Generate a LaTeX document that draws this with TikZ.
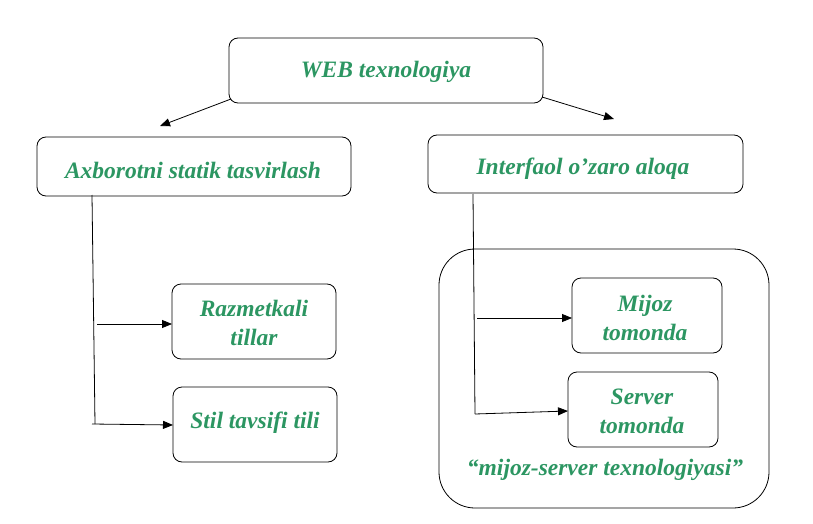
\documentclass[tikz,border=0pt]{standalone}
\usepackage{fontspec}
\setmainfont{Liberation Serif}
\usetikzlibrary{arrows.meta}
\definecolor{txtgreen}{RGB}{44,150,98}
\begin{document}
\begin{tikzpicture}[x=1pt,y=-1pt,
  box/.style={draw=black,line width=0.8pt,rounded corners=9pt,inner sep=0pt},
  lbl/.style={text=txtgreen,font=\fontsize{23.5}{29}\selectfont\bfseries\itshape,align=center},
  conn/.style={draw=black,line width=0.8pt},
  arr/.style={conn,-{Triangle[length=10pt,width=8pt]}}]
\useasboundingbox (0,0) rectangle (813,524);
% boxes
\draw[box] (229,38) rectangle (543,103);
\node[lbl] (web) at (386,72) {WEB texnologiya};
\draw[box] (37,137) rectangle (351,196);
\node[lbl] (ax) at (193,170) {Axborotni statik tasvirlash};
\draw[box] (428,135) rectangle (743,193);
\node[lbl] (int) at (583,169) {Interfaol o’zaro aloqa};
\draw[box,rounded corners=36pt] (439,249) rectangle (769,508);
\draw[box] (172,284) rectangle (336,359);
\node[lbl] (raz) at (254,323) {Razmetkali\\tillar};
\draw[box] (173,387) rectangle (337,462);
\node[lbl] (stil) at (255,423) {Stil tavsifi tili};
\draw[box] (572,278) rectangle (722,353);
\node[lbl] (mij) at (645,318) {Mijoz\\tomonda};
\draw[box] (568,372) rectangle (718,447);
\node[lbl] (ser) at (642,411) {Server\\tomonda};
\node[lbl] (ms) at (605,470) {“mijoz-server texnologiyasi”};
% connectors
\coordinate (wl) at (231,99);
\coordinate (wr) at (542,97);
\coordinate (al) at (160,126);
\coordinate (ar) at (614,119);
\draw[arr] (wl) -- (al);
\draw[arr] (wr) -- (ar);
\coordinate (lt) at (92,195);
\coordinate (lb) at (95,424);
\draw[conn] (lt) -- (lb);
\coordinate (l1) at (97,324);
\draw[arr] (l1) -- (172,324);
\draw[arr] (92,424) -- (173,425);
\coordinate (rt) at (473,194);
\coordinate (rb) at (475,414);
\draw[conn] (rt) -- (rb);
\draw[arr] (477,318) -- (572,318);
\draw[arr] (rb) -- (568,411);
\end{tikzpicture}
\end{document}
